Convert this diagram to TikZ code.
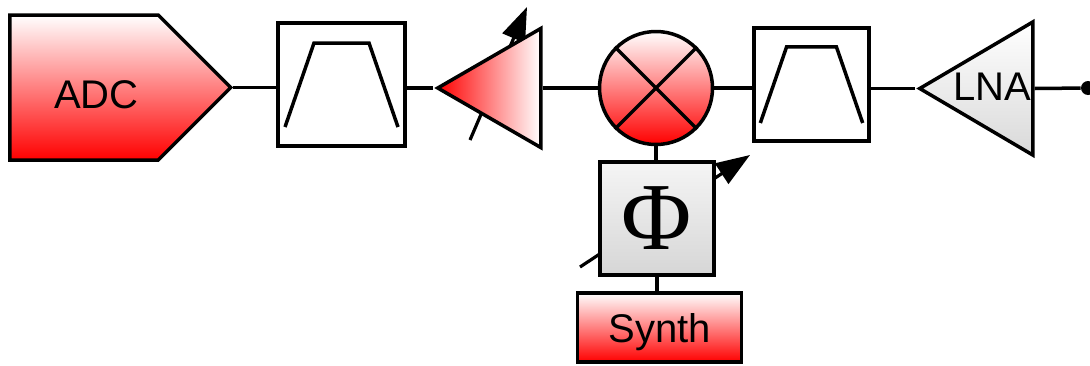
\documentclass[tikz,border=0pt]{standalone}
\usepackage{fontspec}
\setmainfont{Liberation Sans}
\newfontfamily\phifont{Liberation Serif}
\usetikzlibrary{positioning, shapes.geometric, shapes.symbols, arrows.meta}

\begin{document}
\begin{tikzpicture}[
        x=0.5pt, y=-0.5pt,
        wire/.style={line width=1.75pt},
        block/.style={draw, line width=1.75pt, inner sep=0pt},
        bpf/.style={block, rectangle, fill=white},
        redgrad/.style={top color=white, bottom color=red},
        adcbox/.style={block, redgrad, signal, signal to=east, signal pointer angle=90, minimum width=110.5pt, minimum height=72.5pt},
        amp/.style={block, isosceles triangle, isosceles triangle stretches, shape border rotate=180, anchor=east},
        mixer/.style={block, circle, redgrad, minimum size=56.5pt},
        lbl/.style={font=\fontsize{20}{24}\selectfont, inner sep=0pt},
        tune/.style={line width=1.6pt, -{Triangle[length=17pt, width=12pt]}},
        dot/.style={circle, fill, inner sep=0pt, minimum size=7pt},
    ]
    \useasboundingbox (0,0) rectangle (1090,365);
    % tuning arrows, drawn first so the blocks cover them
    \coordinate (vgalo) at (470,140);
    \coordinate (vgahi) at (527,7);
    \coordinate (phlo) at (580,267);
    \coordinate (phhi) at (750,155);
    \draw[tune] (vgalo) -- (vgahi);
    \draw[tune] (phlo) -- (phhi);

    % Receive chain
    \node[adcbox, anchor=west] (adc) at (8,87.5) {};
    \node[bpf, minimum width=63.5pt, minimum height=61.5pt] (bpfa) at (341.5,84.5) {};
    \node[amp, left color=red, right color=white, minimum height=51.5pt, minimum width=59.5pt] (vga) at (542.5,88) {};
    \node[mixer] (mix) at (656,88) {};
    \node[bpf, minimum width=57.5pt, minimum height=56.5pt] (bpfb) at (811.5,84.5) {};
    \node[amp, top color=white, bottom color=black!15, minimum height=56.5pt, minimum width=66.5pt] (lna) at (1034.5,88.5) {};
    \node[dot] (ant) at (1088,88) {};

    % LO path
    \node[block, rectangle, top color=black!4, bottom color=black!16, minimum width=57pt, minimum height=56.5pt,
        font=\phifont\fontsize{48}{48}\selectfont] (phase) at (657,218.5) {Φ};
    \node[block, rectangle, redgrad, minimum width=82pt, minimum height=34.5pt, lbl, text depth=0pt] (synth) at (659.5,327.5) {Synth};

    % Labels
    \node[lbl] (adclbl) at (96.5,94.5) {ADC};
    \node[lbl] (lnalbl) at (992,87) {LNA};

    % Filter curves and mixer cross
    \foreach \f/\s in {bpfa/1, bpfb/0.906}
        \draw[wire, shift={(\f.center)}, scale=\s] (-56.5,42.5) -- (-27.5,-41.5) -- (27.5,-41.5) -- (56.5,42.5);
    \draw[wire] (mix.north west) -- (mix.south east);
    \draw[wire] (mix.north east) -- (mix.south west);

    % Wires
    \draw[wire] (adc.east) -- (adc.east -| bpfa.west);
    \draw[wire] (vga.west) -- (vga.west -| bpfa.east);
    \draw[wire] (vga.east) -- (mix.west);
    \draw[wire] (mix.east) -- (mix.east -| bpfb.west);
    \draw[wire] (lna.west) -- (lna.west -| bpfb.east);
    \draw[wire] (lna.east) -- (ant);
    \draw[wire] (mix.south) -- (mix.south |- phase.north);
    \draw[wire] (phase.south) -- (phase.south |- synth.north);
\end{tikzpicture}
\end{document}
